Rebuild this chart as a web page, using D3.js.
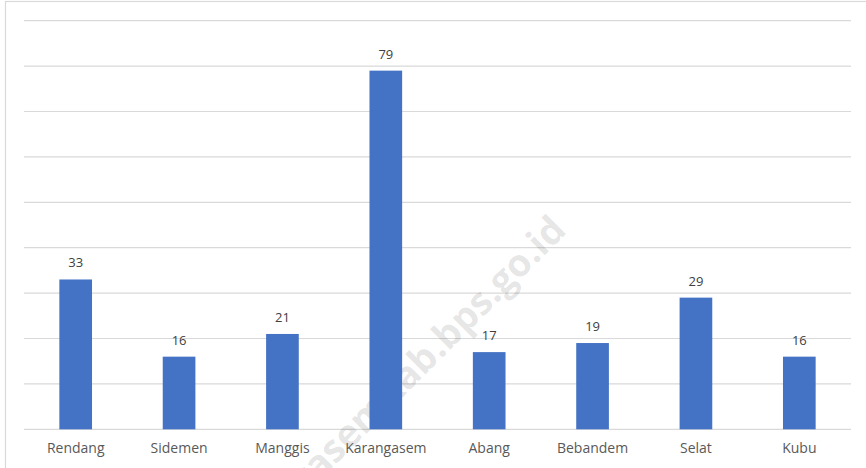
<!DOCTYPE html>
<html>
  <head>
    <script src="https://d3js.org/d3.v7.min.js"></script>
    <style>
      body { margin: 0; background: #fff; }
      text { font-family: "Open Sans", "Noto Sans", sans-serif; }
    </style>
  </head>
  <body>
    <script>
      var width = 866;
      var height = 468;
      var margin = {top: 20.7, left: 24, right: 15, bottom: 38.7};

      var categories = ["Rendang","Sidemen","Manggis","Karangasem","Abang","Bebandem","Selat","Kubu"];
      var values = [33, 16, 21, 79, 17, 19, 29, 16];
      var yTicks = [0, 10, 20, 30, 40, 50, 60, 70, 80, 90];

      var svg = d3.select("body")
        .append("svg")
        .attr("width", width)
        .attr("height", height);

      // chart border (only top and left show in the frame)
      svg.append("rect")
        .attr("x", 5.5)
        .attr("y", 1.5)
        .attr("width", width + 20)
        .attr("height", height + 20)
        .attr("fill", "none")
        .attr("stroke", "#d9d9d9")
        .attr("stroke-width", 1.2);

      var xScale = d3.scaleBand()
        .domain(categories)
        .range([margin.left, width - margin.right])
        .padding(0);

      var yScale = d3.scaleLinear()
        .domain([0, 90])
        .range([height - margin.bottom, margin.top]);

      svg.append("g")
        .selectAll("line")
        .data(yTicks)
        .enter()
        .append("line")
          .attr("x1", margin.left)
          .attr("x2", width - margin.right)
          .attr("y1", function(d) { return yScale(d); })
          .attr("y2", function(d) { return yScale(d); })
          .attr("stroke", "#d9d9d9")
          .attr("stroke-width", 1.2);

      // watermark, drawn under the bars and labels
      svg.append("text")
        .attr("transform", "translate(568,232) rotate(-45)")
        .attr("text-anchor", "end")
        .attr("font-size", "38px")
        .attr("font-weight", "bold")
        .attr("fill", "#000")
        .attr("fill-opacity", 0.11)
        .text("karangasemkab.bps.go.id");

      var barW = xScale.step() * 0.316;

      svg.selectAll("rect.bar")
        .data(values)
        .enter()
        .append("rect")
          .attr("class", "bar")
          .attr("x", function(d, i) { return xScale(categories[i]) + xScale.bandwidth() / 2 - barW / 2; })
          .attr("y", function(d) { return yScale(d); })
          .attr("width", barW)
          .attr("height", function(d) { return yScale(0) - yScale(d); })
          .attr("fill", "#4472C4");

      svg.selectAll("text.val")
        .data(values)
        .enter()
        .append("text")
          .attr("class", "val")
          .attr("x", function(d, i) { return xScale(categories[i]) + xScale.bandwidth() / 2; })
          .attr("y", function(d) { return yScale(d) - 12; })
          .attr("text-anchor", "middle")
          .attr("font-size", "13px")
          .attr("fill", "#404040")
          .text(function(d) { return d; });

      svg.selectAll("text.cat")
        .data(categories)
        .enter()
        .append("text")
          .attr("class", "cat")
          .attr("x", function(d) { return xScale(d) + xScale.bandwidth() / 2; })
          .attr("y", yScale(0) + 24)
          .attr("text-anchor", "middle")
          .attr("font-size", "14px")
          .attr("fill", "#595959")
          .text(function(d) { return d; });
    </script>
  </body>
</html>
